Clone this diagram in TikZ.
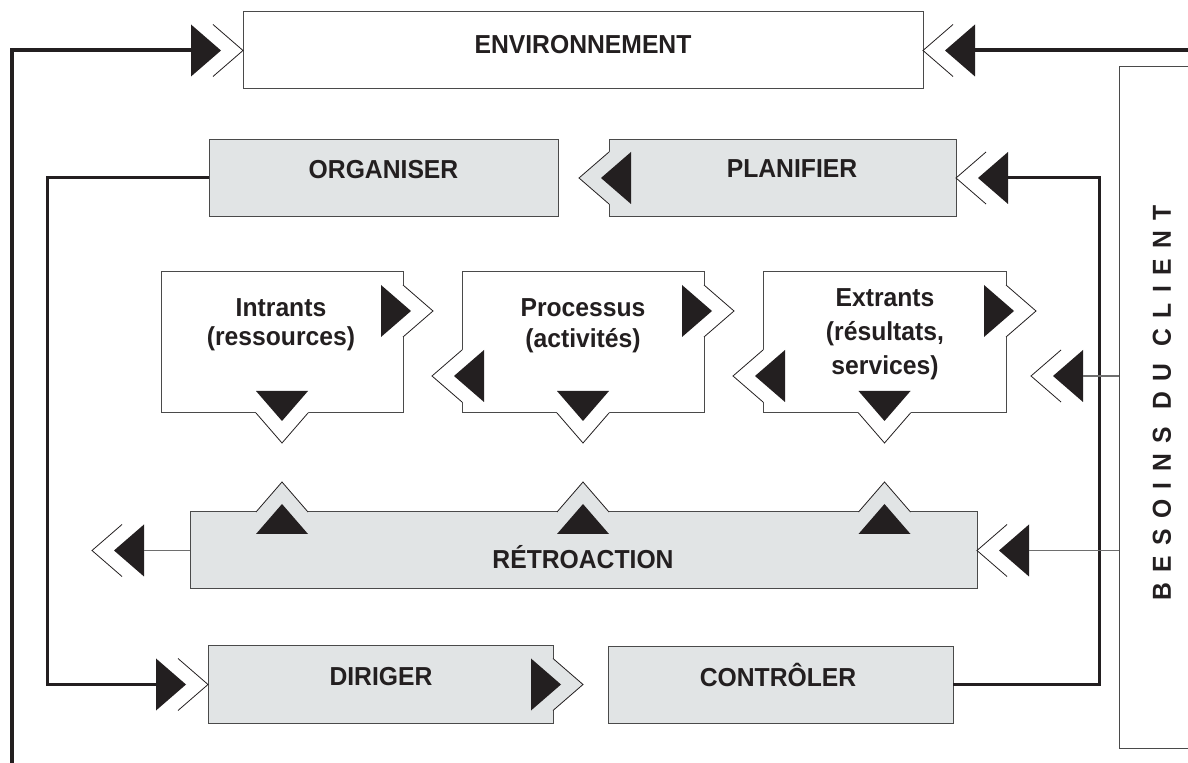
\documentclass[tikz,border=0pt]{standalone}
\usepackage{fontspec}
\setmainfont{Liberation Sans}
\newfontfamily\lblfont[FakeStretch=0.95]{Liberation Sans}
\usetikzlibrary{calc}
\definecolor{boxg}{HTML}{E1E4E5}
\definecolor{ink}{HTML}{231F20}
\definecolor{boxline}{HTML}{4A4A4A}
\definecolor{thinline}{HTML}{6E6E6E}
\tikzset{
  box/.style={draw=boxline, line width=0.5pt, inner sep=0pt, outer sep=0pt},
  gbox/.style={box, fill=boxg},
  wbox/.style={box, fill=white},
  lbl/.style={font=\lblfont\bfseries\fontsize{13}{15}\selectfont, text=ink, inner sep=0pt, anchor=base},
  chev/.style={draw=ink, line width=0.4pt, line join=miter},
  thickL/.style={draw=ink, line width=2pt, line join=miter},
  loopL/.style={draw=ink, line width=1.5pt, line join=miter},
  thinL/.style={draw=thinline, line width=0.7pt},
  inarr/.pic={
    \fill[ink] (-52,-26) -- (-22,0) -- (-52,26) -- cycle;
    \draw[chev] (-30,-26) -- (0,0) -- (-30,26);
  },
  outarr/.pic={
    \fill[#1] (-2,-26) -- (0,-26) -- (30,0) -- (0,26) -- (-2,26) -- cycle;
    \draw[chev] (0,-26) -- (30,0) -- (0,26);
    \fill[ink] (-22,-26) -- (8,0) -- (-22,26) -- cycle;
  },
}
\begin{document}
\begin{tikzpicture}[x=0.5pt, y=-0.5pt]
\useasboundingbox (0,0) rectangle (1188,763);

% ---- boxes ----
\node[wbox, minimum width=340pt, minimum height=38.5pt] (env) at (583,50.5) {};
\node[gbox, minimum width=174.5pt, minimum height=38.5pt] (org) at (383.5,178) {};
\node[gbox, minimum width=173.5pt, minimum height=38.5pt] (plan) at (782.5,178) {};
\node[wbox, minimum width=121pt, minimum height=70.5pt] (intr) at (282,342.5) {};
\node[wbox, minimum width=121pt, minimum height=70.5pt] (proc) at (583,342.5) {};
\node[wbox, minimum width=121.5pt, minimum height=70.5pt] (extr) at (884.5,342.5) {};
\node[gbox, minimum width=393.5pt, minimum height=38.5pt] (retro) at (583.5,550.5) {};
\node[gbox, minimum width=172.5pt, minimum height=38.5pt] (dir) at (380.5,684.5) {};
\node[gbox, minimum width=172.5pt, minimum height=38.5pt] (ctl) at (780.5,685) {};
\node[inner sep=0pt, outer sep=0pt, minimum width=34.5pt, minimum height=340.5pt] (bes) at (1153.5,407.5) {};
\draw[draw=boxline, line width=0.5pt] (bes.north east) -- (bes.north west) -- (bes.south west) -- (bes.south east);

% ---- free coordinates ----
\coordinate (envLB) at (12,763);
\coordinate (envR) at (1188,50.5);
\coordinate (exIn) at ($(extr.south east)+(25,-37)$);
\coordinate (rtOut) at ($(retro.west)+(-98,0)$);

% ---- protrusions (outgoing arrows) ----
\pic[rotate=180] at (plan.west) {outarr=boxg};
\pic at ($(intr.north east)+(0,39)$) {outarr=white};
\pic[rotate=-90] at (intr.south) {outarr=white};
\pic at ($(proc.north east)+(0,39)$) {outarr=white};
\pic[rotate=180] at ($(proc.south west)+(0,-37)$) {outarr=white};
\pic[rotate=-90] at (proc.south) {outarr=white};
\pic at ($(extr.north east)+(0,39)$) {outarr=white};
\pic[rotate=180] at ($(extr.south west)+(0,-37)$) {outarr=white};
\pic[rotate=-90] at (extr.south) {outarr=white};
\pic[rotate=90] at (retro.north -| intr.south) {outarr=boxg};
\pic[rotate=90] at (retro.north -| proc.south) {outarr=boxg};
\pic[rotate=90] at (retro.north -| extr.south) {outarr=boxg};
\pic at (dir.east) {outarr=boxg};

% ---- incoming arrows ----
\pic at (env.west) {inarr};
\pic[rotate=180] at (env.east) {inarr};
\pic at (dir.west) {inarr};
\pic[rotate=180] at (plan.east) {inarr};
\pic[rotate=180] at (retro.east) {inarr};
\pic[rotate=180] at (exIn) {inarr};
\pic[rotate=180] at (rtOut) {inarr};

% ---- connectors ----
\draw[thickL] (envLB) |- ($(env.west)+(-52,0)$);
\draw[thickL] (envR) -- ($(env.east)+(52,0)$);
\draw[loopL] (org.west) -- ++(-162,0) |- ($(dir.west)+(-52,0)$);
\draw[loopL] (ctl.east) -- ++(146,0) |- ($(plan.east)+(52,0)$);
\draw[thinL] (bes.west |- exIn) -- ($(exIn)+(52,0)$);
\draw[thinL] (bes.west |- retro.east) -- ($(retro.east)+(52,0)$);
\draw[thinL] (retro.west) -- ($(rtOut)+(52,0)$);

% ---- labels ----
\node[lbl] (envT) at (583,54) {ENVIRONNEMENT};
\node[lbl] (orgT) at (383.5,179) {ORGANISER};
\node[lbl] (planT) at (792,178) {PLANIFIER};
\node[lbl] (intrT1) at (281,317) {Intrants};
\node[lbl] (intrT2) at (281,346) {(ressources)};
\node[lbl] (procT1) at (583,317) {Processus};
\node[lbl] (procT2) at (583,348) {(activités)};
\node[lbl] (extrT1) at (885,307) {Extrants};
\node[lbl] (extrT2) at (885,341) {(résultats,};
\node[lbl] (extrT3) at (885,375) {services)};
\node[lbl] (retroT) at (583,569) {RÉTROACTION};
\node[lbl] (dirT) at (381,686) {DIRIGER};
\node[lbl] (ctlT) at (778,687) {CONTRÔLER};
\node[lbl, anchor=center, rotate=90, font=\lblfont\bfseries\fontsize{13}{15}\selectfont\addfontfeatures{LetterSpace=40}] (besT) at (1162,403) {BESOINS DU CLIENT};
\end{tikzpicture}
\end{document}
